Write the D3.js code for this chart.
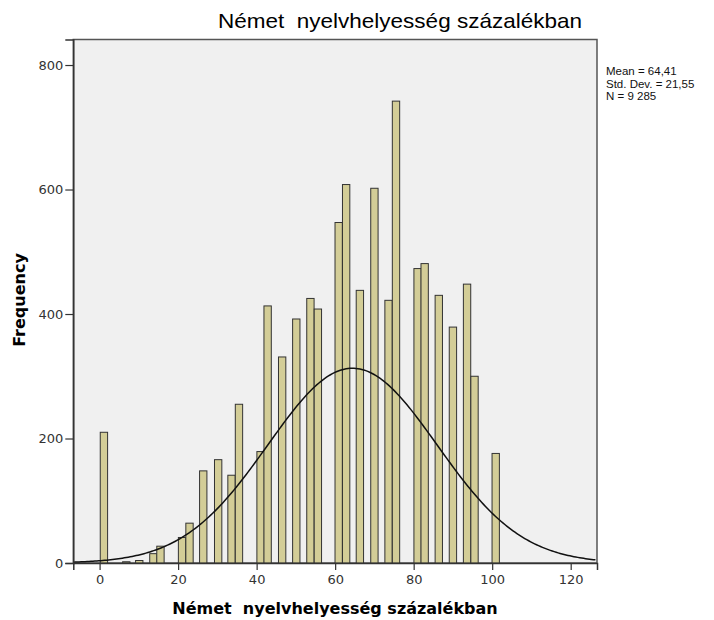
<!DOCTYPE html>
<html>
<head>
<meta charset="utf-8">
<script src="https://cdn.jsdelivr.net/npm/d3@7"></script>
<style>
  body { margin: 0; background: #fff; }
  svg text { font-family: "DejaVu Sans", sans-serif; white-space: pre; }
</style>
</head>
<body>
<svg width="714" height="620"></svg>
<script>
// bin centers (score %) and frequencies
const binCenters = [1.1, 6.8, 10.1, 13.7, 15.5, 21.0, 22.9, 26.4, 30.2, 33.6, 35.5, 41.0, 42.8, 46.5, 50.1,
  53.7, 55.6, 60.9, 62.8, 66.3, 70.0, 73.6, 75.5, 81.0, 82.8, 86.4, 90.0, 93.6, 95.5, 100.9];
const counts = [210, 2, 4, 15, 27, 41, 64, 148, 166, 141, 255, 179, 413, 331, 392, 425, 408, 547, 608,
  438, 602, 422, 742, 473, 481, 430, 379, 448, 300, 176];
const xTicks = [0, 20, 40, 60, 80, 100, 120];
const yTicks = [0, 200, 400, 600, 800];
const stats = { mean: 64.41, sd: 21.55, n: 9285 };
const statLines = ["Mean = 64,41", "Std. Dev. = 21,55", "N = 9 285"];
const titleText = "Német  nyelvhelyesség százalékban";

const svg = d3.select("svg");
const barW = 1.87;    // width of one bar, in score units
const curveBin = 1.82; // bin width used for the normal curve
const arial = "Liberation Sans, Arial, sans-serif";

const plot = { left: 73.3, right: 597, top: 39.5, bottom: 563 };

const x = d3.scaleLinear().domain([-6.7, 126.7]).range([plot.left, plot.right]);
const y = d3.scaleLinear().domain([0, 841]).range([plot.bottom, plot.top]);

// plot background + frame
svg.append("rect")
  .attr("x", plot.left).attr("y", plot.top)
  .attr("width", plot.right - plot.left).attr("height", plot.bottom - plot.top)
  .attr("fill", "#f0f0f0").attr("stroke", "#555").attr("stroke-width", 1.5);

// bars
svg.append("g").selectAll("rect")
  .data(binCenters)
  .enter()
  .append("rect")
  .attr("x", d => x(d - barW / 2))
  .attr("width", x(barW) - x(0))
  .attr("y", (d, i) => y(counts[i]))
  .attr("height", (d, i) => y(0) - y(counts[i]))
  .attr("fill", "#d3cd97")
  .attr("stroke", "#333")
  .attr("stroke-width", 1);

// normal curve
const normal = v => stats.n * curveBin / (stats.sd * Math.sqrt(2 * Math.PI)) *
  Math.exp(-0.5 * Math.pow((v - stats.mean) / stats.sd, 2));
const curvePts = d3.range(-6.7, 126.8, 0.5);
svg.append("path")
  .datum(curvePts)
  .attr("fill", "none")
  .attr("stroke", "#111")
  .attr("stroke-width", 1.5)
  .attr("d", d3.line().x(d => x(d)).y(d => y(normal(d))));

// axes
const xAxis = svg.append("g")
  .attr("transform", `translate(0,${plot.bottom})`)
  .call(d3.axisBottom(x).tickValues(xTicks).tickSize(7).tickPadding(5));
xAxis.select(".domain").attr("stroke", "#333").attr("stroke-width", 1.5);
xAxis.selectAll(".tick line").attr("stroke", "#333").attr("stroke-width", 1.2);
xAxis.selectAll("text").attr("font-size", 13).attr("fill", "#333")
  .attr("font-family", arial);

const yAxis = svg.append("g")
  .attr("transform", `translate(${plot.left},0)`)
  .call(d3.axisLeft(y).tickValues(yTicks).tickSize(8).tickPadding(2));
yAxis.select(".domain").attr("stroke", "#333").attr("stroke-width", 1.5);
yAxis.selectAll(".tick line").attr("stroke", "#333").attr("stroke-width", 1.2);
yAxis.selectAll("text").attr("font-size", 13).attr("fill", "#333")
  .attr("font-family", arial);

// titles
svg.append("text")
  .attr("x", 400).attr("y", 28)
  .attr("text-anchor", "middle")
  .style("font-family", arial)
  .attr("font-size", 21)
  .attr("textLength", 364)
  .attr("lengthAdjust", "spacingAndGlyphs")
  .attr("fill", "#000")
  .text(titleText);

svg.append("text")
  .attr("x", 335).attr("y", 614)
  .attr("text-anchor", "middle")
  .attr("font-size", 16).attr("font-weight", "bold")
  .text(titleText);

svg.append("text")
  .attr("transform", `translate(25,300) rotate(-90)`)
  .attr("text-anchor", "middle")
  .attr("font-size", 16).attr("font-weight", "bold")
  .text("Frequency");

// stats box text
svg.append("g").selectAll("text")
  .data(statLines)
  .enter()
  .append("text")
  .attr("x", 606)
  .attr("y", (d, i) => 75 + i * 12.5)
  .style("font-family", arial)
  .attr("font-size", 11.5)
  .attr("fill", "#111")
  .text(d => d);
</script>
</body>
</html>
